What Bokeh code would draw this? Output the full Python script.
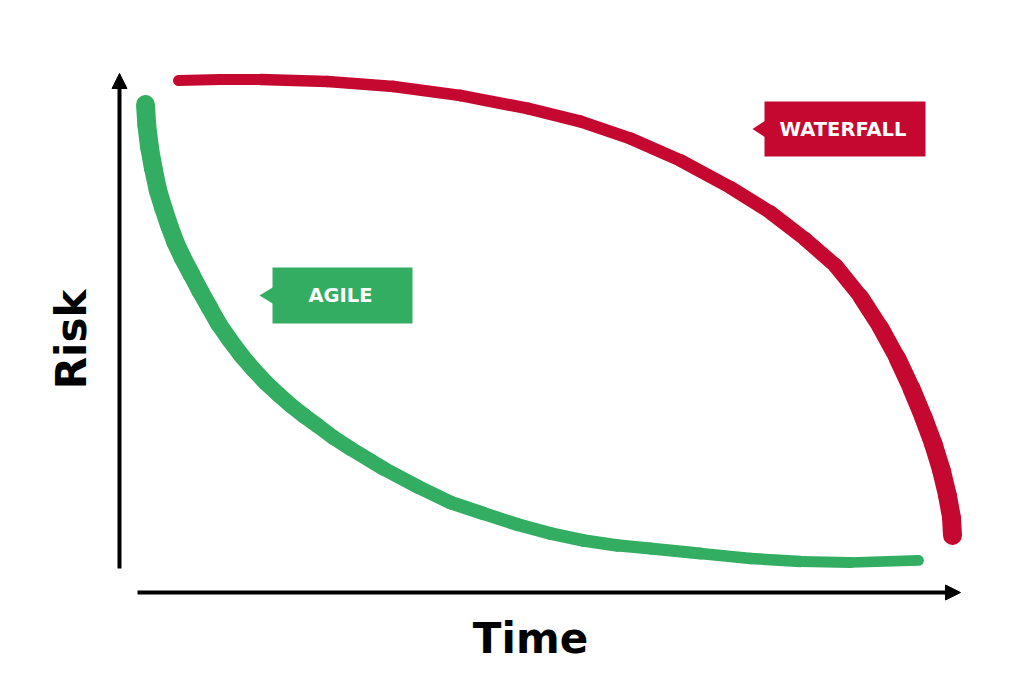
import numpy as np
from bokeh.plotting import figure
from bokeh.models import Range1d, Arrow, NormalHead
from bokeh.core.properties import value
from bokeh.embed import file_html
from bokeh.resources import INLINE

# ---- layout helpers: picture pixel -> data units ----
SX, SY = 8.41, 5.19          # px per data unit
OX, OY = 119, 592            # picture px of (time=0, risk=0)


def dx(px):
    return (px - OX) / SX


def dy(py):
    return (OY - py) / SY


# ---- data (time 0..100, risk 0..100) ----
agile_time = [3.09, 3.25, 3.57, 4.02, 4.58, 5.23, 5.95, 6.66, 7.49, 8.56, 9.63,
              10.70, 11.77, 13.08, 14.51, 15.93, 17.36, 18.91, 20.45, 21.99, 23.54,
              25.44, 27.47, 31.39, 35.43, 39.36, 43.28, 47.32, 51.25, 55.17, 59.21,
              63.14, 69.08, 75.03, 80.98, 86.92, 95.01]
agile_risk = [94.03, 89.98, 85.74, 81.70, 77.46, 73.99, 70.52, 67.44, 64.55, 61.27,
              57.99, 54.91, 51.83, 48.75, 45.66, 42.97, 40.50, 38.15, 35.95, 34.01,
              32.18, 29.87, 27.75, 23.89, 20.42, 17.34, 15.22, 13.10, 11.37, 10.02,
              9.06, 8.48, 7.51, 6.55, 5.97, 5.78, 6.17]

waterfall_time = [7.02, 12.01, 16.77, 24.73, 32.58, 40.55, 48.51, 54.82, 60.76,
                  66.71, 72.65, 77.41, 81.57, 85.14, 88.11, 90.49, 92.51, 94.17,
                  95.60, 96.79, 97.74, 98.45, 98.93, 99.05]
waterfall_risk = [98.65, 98.84, 98.84, 98.46, 97.50, 95.76, 93.26, 90.75, 87.48,
                  83.24, 78.03, 73.22, 68.02, 62.99, 57.03, 51.06, 45.09, 39.31,
                  33.72, 28.52, 23.51, 18.69, 14.45, 10.98]

series_labels = ["AGILE", "WATERFALL"]
axis_titles = ["Time", "Risk"]

GREEN = "#33ad62"
RED = "#c4082f"
FONT = "DejaVu Sans"

W, H = 1016, 672
p = figure(width=W, height=H, output_backend="svg", toolbar_location=None,
           x_range=Range1d(dx(0), dx(W)), y_range=Range1d(dy(H), dy(0)),
           min_border=0, outline_line_color=None)
p.axis.visible = False
p.grid.visible = False
p.background_fill_color = "white"
p.border_fill_color = "white"


def brush(xs, ys, color, fracs, widths):
    xs = np.asarray(xs, float)
    ys = np.asarray(ys, float)
    seg = np.hypot(np.diff(xs) * SX, np.diff(ys) * SY)
    mid = (np.cumsum(seg) - seg / 2) / seg.sum()
    lw = np.interp(mid, fracs, widths)
    p.segment(x0=xs[:-1], y0=ys[:-1], x1=xs[1:], y1=ys[1:], line_color=color,
              line_width=lw, line_cap="round", line_join="round")


brush(waterfall_time, waterfall_risk, RED, [0, 0.5, 0.7, 0.85, 1], [11, 12.5, 15, 18, 19])
brush(agile_time, agile_risk, GREEN, [0, 0.2, 0.4, 0.6, 1], [19, 17.5, 15, 13, 10.5])

# ---- axes with arrows ----
p.add_layout(Arrow(x_start=0, y_start=dy(568), x_end=0, y_end=dy(73),
                   line_width=4, line_color="black",
                   end=NormalHead(size=15, fill_color="black", line_color="black", line_width=1)))
p.add_layout(Arrow(x_start=dx(137), y_start=0, x_end=dx(960), y_end=0,
                   line_width=4, line_color="black",
                   end=NormalHead(size=15, fill_color="black", line_color="black", line_width=1)))

# ---- axis titles ----
p.text(x=[dx(530)], y=[dy(638)], text=[axis_titles[0]], text_color="black",
       text_font=value(FONT), text_font_size="42px", text_font_style="bold",
       text_align="center", text_baseline="middle")
p.text(x=[dx(71)], y=[dy(339)], text=[axis_titles[1]], text_color="black",
       text_font=value(FONT), text_font_size="42px", text_font_style="bold",
       text_align="center", text_baseline="middle", angle=np.pi / 2)


# ---- label tags ----
def tag(left, right, top, bottom, tip_x, color, label):
    mid = (top + bottom) / 2
    p.quad(left=dx(left), right=dx(right), top=dy(top), bottom=dy(bottom),
           fill_color=color, line_color=None)
    p.patch(x=[dx(tip_x), dx(left + 1), dx(left + 1)],
            y=[dy(mid), dy(mid - 8.5), dy(mid + 8.5)], fill_color=color, line_color=None)
    p.text(x=[dx((left + right) / 2 - 2)], y=[dy(mid)], text=[label], text_color="white",
           text_font=value(FONT), text_font_size="19.5px", text_font_style="bold",
           text_align="center", text_baseline="middle")


tag(764, 925, 101, 156, 752, RED, series_labels[1])
tag(272, 412, 267, 323, 259, GREEN, series_labels[0])

open("out.html", "w").write(file_html(p, INLINE))
